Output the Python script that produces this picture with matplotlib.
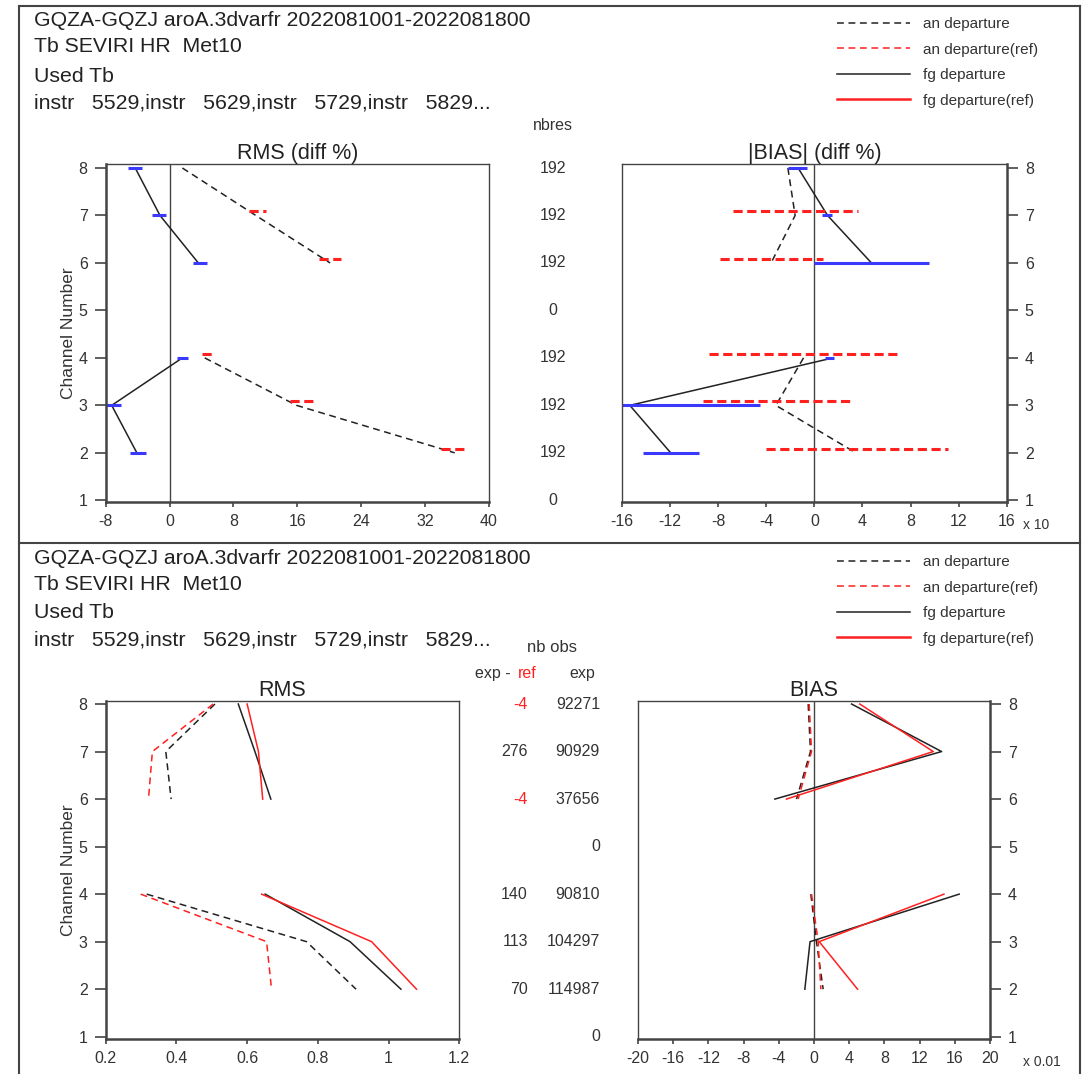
import numpy as np
import matplotlib
matplotlib.use("Agg")
import matplotlib.pyplot as plt
import matplotlib.transforms as mtransforms
from matplotlib.lines import Line2D

plt.rcParams["font.family"] = ["Liberation Sans", "DejaVu Sans"]

W, H = 1087, 1074
nan = np.nan

# ---- data -------------------------------------------------------------
header_lines = [
    "GQZA-GQZJ aroA.3dvarfr 2022081001-2022081800",
    "Tb SEVIRI HR  Met10",
    "Used Tb",
    "instr   5529,instr   5629,instr   5729,instr   5829...",
]
legend_labels = ["an departure", "an departure(ref)", "fg departure", "fg departure(ref)"]

channels = [8, 7, 6, 5, 4, 3, 2]
count_channels = [8, 7, 6, 5, 4, 3, 2, 1]

# top left: RMS (diff %)
rms_diff_an = [1.6, 10.8, 20.1, nan, 4.4, 15.9, 35.7]
rms_diff_fg = [-4.3, -1.2, 3.6, nan, 1.6, -7.25, -4.1]
rms_diff_fg_lo = [-5.25, -2.25, 2.9, nan, 0.9, -8.2, -5.0]
rms_diff_fg_hi = [-3.4, -0.45, 4.7, nan, 2.3, -6.1, -3.0]
rms_diff_ref_lo = [nan, 10.0, 18.7, nan, 4.1, 15.1, 34.0]
rms_diff_ref_hi = [nan, 12.1, 21.5, nan, 5.5, 18.4, 37.4]

# top right: |BIAS| (diff %), x 10
bias_diff_an = [-2.2, -1.6, -3.6, nan, -0.9, -3.2, 3.45]
bias_diff_fg = [-1.35, 1.1, 4.75, nan, 1.55, -15.35, -11.95]
bias_diff_fg_lo = [-2.2, 0.65, 0.0, nan, 0.85, -16.0, -14.25]
bias_diff_fg_hi = [-0.6, 1.5, 9.55, nan, 1.65, -4.5, -9.6]
bias_diff_ref_lo = [nan, -6.75, -7.85, nan, -8.8, -9.25, -4.05]
bias_diff_ref_hi = [nan, 3.65, 0.75, nan, 7.0, 3.1, 11.15]

nbres = [192, 192, 192, 0, 192, 192, 192, 0]

# bottom left: RMS
rms_an = [0.509, 0.370, 0.385, nan, 0.316, 0.768, 0.908]
rms_an_ref = [0.504, 0.332, 0.321, nan, 0.299, 0.655, 0.669]
rms_fg = [0.575, 0.622, 0.667, nan, 0.651, 0.891, 1.035]
rms_fg_ref = [0.600, 0.632, 0.644, nan, 0.641, 0.952, 1.079]

# bottom right: BIAS, x 0.01
bias_an = [-0.66, -0.40, -1.99, nan, -0.36, 0.28, 1.04]
bias_an_ref = [-0.55, -0.28, -1.8, nan, -0.28, 0.47, 0.78]
bias_fg = [4.27, 14.5, -4.45, nan, 16.5, -0.45, -1.04]
bias_fg_ref = [5.2, 13.55, -3.13, nan, 14.77, 0.59, 4.95]

nobs_diff = ["-4", "276", "-4", "", "140", "113", "70", ""]
nobs_exp = [92271, 90929, 37656, 0, 90810, 104297, 114987, 0]

# ---- styles -----------------------------------------------------------
BLACK = "#222222"
RED = "#ff2020"
BLUE = "#3a3aff"
GREY = "#444444"
DASH = (0, (4.5, 3))
LW = 1.1


def px_rect(x0, y0, x1, y1):
    return [x0 / W, 1 - y1 / H, (x1 - x0) / W, (y1 - y0) / H]


def style_axes(ax, xticks, xlabels, xlim, ylim, right=False):
    ax.set_xlim(*xlim)
    ax.set_ylim(*ylim)
    ax.set_xticks(xticks)
    ax.set_xticklabels(xlabels)
    ax.set_yticks(range(1, 9))
    for s in ax.spines.values():
        s.set_color(GREY)
        s.set_linewidth(1.0)
    ax.spines["bottom"].set_linewidth(1.8)
    if right:
        ax.yaxis.tick_right()
        ax.spines["right"].set_linewidth(1.8)
    else:
        ax.spines["left"].set_linewidth(1.8)
    ax.tick_params(axis="y", direction="out", length=8, width=1.2, pad=5,
                   labelsize=11.5, colors=GREY, labelcolor="#333333")
    ax.tick_params(axis="x", direction="out", length=3.5, width=1.2, pad=5,
                   labelsize=11.5, colors=GREY, labelcolor="#333333")


fig = plt.figure(figsize=(W / 100, H / 100), dpi=100)

ax_tl = fig.add_axes(px_rect(105.7, 164.3, 489, 502.3))
ax_tr = fig.add_axes(px_rect(622, 164.3, 1006.7, 502.3))
ax_bl = fig.add_axes(px_rect(105.7, 700.7, 459.3, 1039))
ax_br = fig.add_axes(px_rect(638, 700.7, 990, 1039))

ref_off = 0.09

# top left
ax_tl.axvline(0, color=GREY, lw=1.0)
ax_tl.plot(rms_diff_an, channels, color=BLACK, lw=LW, ls=DASH)
ax_tl.plot(rms_diff_fg, channels, color=BLACK, lw=LW)
ax_tl.hlines(channels, rms_diff_fg_lo, rms_diff_fg_hi, color=BLUE, lw=2.2)
ax_tl.hlines(np.array(channels) + ref_off, rms_diff_ref_lo, rms_diff_ref_hi,
             color=RED, lw=2.2, linestyles=(0, (3, 1.5)))
style_axes(ax_tl, range(-8, 41, 8), [str(v) for v in range(-8, 41, 8)],
           (-8, 40), (0.958, 8.078))
ax_tl.set_title("RMS (diff %)", fontsize=15.5, pad=3, color=BLACK)
ax_tl.set_ylabel("Channel Number", fontsize=12.5, color="#333333", labelpad=2)

# top right
ax_tr.axvline(0, color=GREY, lw=1.0)
ax_tr.plot(bias_diff_an, channels, color=BLACK, lw=LW, ls=DASH)
ax_tr.plot(bias_diff_fg, channels, color=BLACK, lw=LW)
ax_tr.hlines(channels, bias_diff_fg_lo, bias_diff_fg_hi, color=BLUE, lw=2.2)
ax_tr.hlines(np.array(channels) + ref_off, bias_diff_ref_lo, bias_diff_ref_hi,
             color=RED, lw=2.2, linestyles=(0, (3, 1.5)))
style_axes(ax_tr, range(-16, 17, 4), [str(v) for v in range(-16, 17, 4)],
           (-16, 16), (0.958, 8.078), right=True)
ax_tr.set_title("|BIAS| (diff %)", fontsize=15.5, pad=3, color=BLACK)

# bottom left
ax_bl.plot(rms_an, channels, color=BLACK, lw=LW, ls=DASH)
ax_bl.plot(rms_an_ref, channels, color=RED, lw=LW, ls=DASH)
ax_bl.plot(rms_fg, channels, color=BLACK, lw=LW)
ax_bl.plot(rms_fg_ref, channels, color=RED, lw=LW)
bl_ticks = [0.2, 0.4, 0.6, 0.8, 1.0, 1.2]
style_axes(ax_bl, bl_ticks, ["0.2", "0.4", "0.6", "0.8", "1", "1.2"],
           (0.2, 1.2), (0.952, 8.07))
ax_bl.set_title("RMS", fontsize=15.5, pad=3, color=BLACK)
ax_bl.set_ylabel("Channel Number", fontsize=12.5, color="#333333", labelpad=2)

# bottom right
ax_br.axvline(0, color=GREY, lw=1.0)
ax_br.plot(bias_an, channels, color=BLACK, lw=LW, ls=DASH)
ax_br.plot(bias_an_ref, channels, color=RED, lw=LW, ls=DASH)
ax_br.plot(bias_fg, channels, color=BLACK, lw=LW)
ax_br.plot(bias_fg_ref, channels, color=RED, lw=LW)
style_axes(ax_br, range(-20, 21, 4), [str(v) for v in range(-20, 21, 4)],
           (-20, 20), (0.952, 8.07), right=True)
ax_br.set_title("BIAS", fontsize=15.5, pad=3, color=BLACK)

fig.text(1023 / W, 1 - 525 / H, "x 10", fontsize=10, color="#333333", va="center")
fig.text(1023 / W, 1 - 1062 / H, "x 0.01", fontsize=10, color="#333333", va="center")

# headers
for rows in ([21, 47, 76, 103], [558, 585, 613, 640]):
    for txt, y in zip(header_lines, rows):
        fig.text(34 / W, 1 - y / H, txt, fontsize=15.3, color=BLACK, va="center")

# legends
handles = [
    Line2D([], [], color=BLACK, lw=LW, ls=DASH),
    Line2D([], [], color=RED, lw=LW, ls=DASH),
    Line2D([], [], color=BLACK, lw=LW),
    Line2D([], [], color=RED, lw=1.8),
]
for y_top in (17, 555):
    fig.legend(handles, legend_labels, loc="upper left",
               bbox_to_anchor=(837 / W, 1 - y_top / H), frameon=False,
               fontsize=11, handlelength=4.8, handletextpad=0.8,
               labelspacing=0.76, borderpad=0, borderaxespad=0,
               labelcolor="#333333")

# middle column (counts)
tr_top = mtransforms.blended_transform_factory(fig.transFigure, ax_tr.transData)
fig.text(553 / W, 1 - 125 / H, "nbres", fontsize=11.5, color="#333333",
         ha="center", va="center")
for ch, n in zip(count_channels, nbres):
    ax_tr.text(553 / W, ch, str(n), transform=tr_top, fontsize=11.5,
               color="#333333", ha="center", va="center")

tr_bot = mtransforms.blended_transform_factory(fig.transFigure, ax_br.transData)
fig.text(552 / W, 1 - 648 / H, "nb obs", fontsize=12, color="#333333",
         ha="center", va="center")
fig.text(475 / W, 1 - 678 / H, "exp -", fontsize=11.5, color="#333333",
         ha="left", va="baseline")
fig.text(518 / W, 1 - 678 / H, "ref", fontsize=11.5, color=RED,
         ha="left", va="baseline")
fig.text(582 / W, 1 - 678 / H, "exp", fontsize=11.5, color="#333333",
         ha="center", va="baseline")
for ch, d, e in zip(count_channels, nobs_diff, nobs_exp):
    col = RED if d.startswith("-") else "#333333"
    ax_br.text(528 / W, ch, d, transform=tr_bot, fontsize=11.5, color=col,
               ha="right", va="center")
    ax_br.text(600 / W, ch, str(e), transform=tr_bot, fontsize=11.5,
               color="#333333", ha="right", va="center")

# outer frame and separator
for xs, ys in (([19, 1080], [6, 6]), ([19, 19], [6, 1074]), ([1080, 1080], [6, 1074]),
               ([19, 1080], [543, 543])):
    fig.add_artist(Line2D([x / W for x in xs], [1 - y / H for y in ys],
                          transform=fig.transFigure, color=GREY, lw=1.5))

fig.savefig("out.png", dpi=100)
